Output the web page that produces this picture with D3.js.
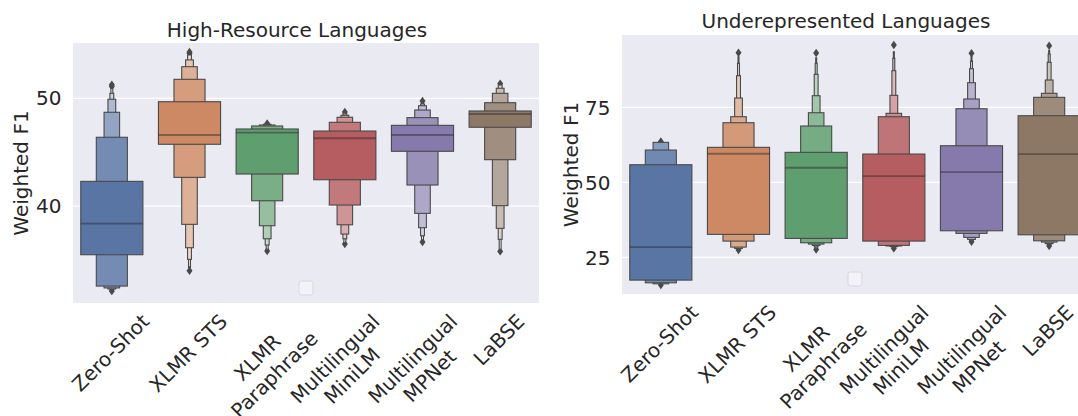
<!DOCTYPE html>
<html>
<head>
<meta charset="utf-8">
<script src="https://cdn.jsdelivr.net/npm/d3@7"></script>
<style>
  body { margin: 0; background: #fff; }
  svg { display: block; }
  text { font-family: "DejaVu Sans", sans-serif; fill: #262626; }
</style>
</head>
<body>
<div id="chart"></div>
<script>
// categories shared by both panels
var categories = ["Zero-Shot", "XLMR STS", "XLMR\nParaphrase", "Multilingual\nMiniLM", "Multilingual\nMPNet", "LaBSE"];
var colors = ["#5875A4", "#CC8963", "#5F9E6E", "#B55D60", "#857AAB", "#8D7866"];

// High-Resource Languages: median, letter-value box ends (inner -> outer), outliers
var hrTicks = [40, 50];
var hrMedian = [38.36, 46.59, 46.82, 46.29, 46.59, 48.54];
var hrUpper = [
  [42.29, 46.38, 48.70, 49.91, 50.46, 50.9],
  [49.68, 51.76, 52.93, 53.56, 54.02, 54.1],
  [47.15, 47.43, 47.52, 47.58, 47.62, 47.64],
  [46.96, 47.77, 48.24, 48.42, 48.55, 48.65],
  [47.49, 48.20, 48.91, 49.31, 49.47, 49.6],
  [48.82, 49.59, 50.46, 50.93, 51.23, 51.3]
];
var hrLower = [
  [35.48, 32.57, 32.40, 32.30, 32.25, 32.2],
  [45.73, 42.66, 38.30, 36.13, 35.05, 34.3],
  [42.97, 40.49, 38.17, 36.96, 36.38, 36.0],
  [42.44, 40.09, 38.26, 37.40, 36.96, 36.6],
  [45.08, 41.95, 39.32, 37.99, 37.24, 36.8],
  [47.31, 44.30, 40.03, 37.93, 36.91, 36.0]
];
var hrOutliers = [
  [51.1, 51.25, 32.1],
  [54.15, 54.3, 33.99],
  [47.66, 35.82],
  [48.73, 36.47],
  [49.75, 36.66],
  [51.36, 35.79]
];

// Underepresented Languages
var urTicks = [25, 50, 75];
var urMedian = [28.43, 59.53, 54.87, 52.1, 53.43, 59.43];
var urUpper = [
  [55.87, 60.77, 63.33],
  [61.67, 69.87, 71.87, 78.10, 85.53, 89.67, 91.87],
  [60.0, 68.77, 73.2, 78.87, 86.0, 89.67, 91.5],
  [59.43, 71.87, 73.0, 79.0, 87.2, 91.33, 93.53],
  [62.2, 74.53, 77.77, 83.2, 87.87, 90.43, 92.0],
  [72.2, 78.33, 79.67, 84.1, 90.0, 92.77, 94.0]
];
var urLower = [
  [17.43, 16.53, 16.2],
  [32.67, 30.43, 28.43, 28.0, 27.8, 27.6, 27.5],
  [31.33, 29.87, 29.43, 29.0, 28.5, 28.0, 27.8],
  [30.43, 29.0, 28.8, 28.6, 28.4, 28.2, 28.1],
  [33.87, 33.0, 31.67, 31.0, 30.7, 30.5, 30.4],
  [32.53, 30.53, 30.1, 29.6, 29.3, 29.0, 28.9]
];
var urOutliers = [
  [63.6, 15.77],
  [93.2, 27.43],
  [93.1, 27.6],
  [95.77, 28.0],
  [93.0, 30.2],
  [95.53, 28.77]
];

var W = 1078, H = 416, fs = 20;

var panels = [
  { title: "High-Resource Languages", left: 73, top: 43, width: 466, height: 260,
    domain: [31.0, 55.13], ticks: hrTicks, median: hrMedian, upper: hrUpper, lower: hrLower,
    outliers: hrOutliers, levels: 6, titleX: 297, titleY: 37, ylabelX: 28, legend: [299, 281] },
  { title: "Underepresented Languages", left: 622, top: 35, width: 466, height: 259,
    domain: [12.8, 99.1], ticks: urTicks, median: urMedian, upper: urUpper, lower: urLower,
    outliers: urOutliers, levels: 7, titleX: 846, titleY: 27.5, ylabelX: 578, legend: [848, 272] }
];

var svg = d3.select("#chart").append("svg")
  .attr("width", W)
  .attr("height", H);

function drawPanel(p) {
  var x = d3.scaleBand().domain(categories).range([0, p.width]).padding(0);
  var y = d3.scaleLinear().domain(p.domain).range([p.height, 0]);
  var bw = x.bandwidth();

  var g = svg.append("g").attr("transform", "translate(" + p.left + "," + p.top + ")");

  g.append("rect")
    .attr("width", p.width)
    .attr("height", p.height)
    .attr("fill", "#EAEAF2");

  // grid + tick labels
  g.selectAll(".grid").data(p.ticks).enter().append("line")
    .attr("x1", 0).attr("x2", p.width)
    .attr("y1", function(d) { return y(d); })
    .attr("y2", function(d) { return y(d); })
    .attr("stroke", "#fff").attr("stroke-width", 1.3);
  g.selectAll(".ytick").data(p.ticks).enter().append("text")
    .attr("x", -11.5)
    .attr("y", function(d) { return y(d); })
    .attr("dy", "0.36em")
    .attr("text-anchor", "end")
    .style("font-size", fs + "px")
    .text(function(d) { return d; });

  categories.forEach(function(c, i) {
    var cx = x(c) + bw / 2;
    var col = d3.color(colors[i]);

    // outliers go under the boxes
    g.selectAll(null).data(p.outliers[i]).enter().append("path")
      .attr("d", "M0,-4.2L3,0L0,4.2L-3,0Z")
      .attr("transform", function(d) { return "translate(" + cx + "," + y(d) + ")"; })
      .attr("fill", "#494949");

    var ups = p.upper[i], los = p.lower[i];
    for (var j = ups.length - 1; j >= 0; j--) {
      var w = 0.8 * bw * Math.pow(0.5, j);
      var t = 0.85 * j / (p.levels - 1);
      var fill = d3.interpolateRgb(col, "#ffffff")(t);
      g.append("rect")
        .attr("x", cx - w / 2)
        .attr("width", w)
        .attr("y", y(ups[j]))
        .attr("height", y(los[j]) - y(ups[j]))
        .attr("fill", fill)
        .attr("stroke", "#494949")
        .attr("stroke-width", 1.1);
    }

    g.append("line")
      .attr("x1", cx - 0.4 * bw).attr("x2", cx + 0.4 * bw)
      .attr("y1", y(p.median[i])).attr("y2", y(p.median[i]))
      .attr("stroke", "#262626").attr("stroke-opacity", 0.45)
      .attr("stroke-width", 1.8);

    // rotated, possibly two-line tick label
    var lines = c.split("\n");
    var lab = svg.append("g");
    var widths = [];
    lines.forEach(function(l, k) {
      var tx = lab.append("text")
        .attr("text-anchor", "middle")
        .attr("y", 0.76 * fs + k * 1.2 * fs)
        .style("font-size", fs + "px")
        .text(l);
      widths.push(tx.node().getComputedTextLength());
    });
    var bwid = d3.max(widths);
    var bh = (lines.length - 1) * 1.2 * fs + fs;
    var a = Math.PI / 4, co = Math.cos(a), si = Math.sin(a);
    var corners = [[-bwid / 2, 0], [bwid / 2, 0], [-bwid / 2, bh], [bwid / 2, bh]].map(function(q) {
      return [q[0] * co + q[1] * si, -q[0] * si + q[1] * co];
    });
    var minX = d3.min(corners, function(q) { return q[0]; });
    var maxX = d3.max(corners, function(q) { return q[0]; });
    var minY = d3.min(corners, function(q) { return q[1]; });
    var tx0 = p.left + cx - (minX + maxX) / 2;
    var ty0 = p.top + p.height + 9 - minY;
    lab.attr("transform", "translate(" + tx0 + "," + ty0 + ") rotate(-45)");
  });

  // empty legend frame
  svg.append("rect")
    .attr("x", p.legend[0]).attr("y", p.legend[1])
    .attr("width", 14).attr("height", 14)
    .attr("rx", 2.5)
    .attr("fill", "#F2F2F7")
    .attr("stroke", "#D6D6DC");

  svg.append("text")
    .attr("x", p.titleX).attr("y", p.titleY)
    .attr("text-anchor", "middle")
    .style("font-size", fs + "px")
    .text(p.title);

  svg.append("text")
    .attr("transform", "translate(" + p.ylabelX + "," + (p.top + p.height / 2) + ") rotate(-90)")
    .attr("text-anchor", "middle")
    .style("font-size", fs + "px")
    .text("Weighted F1");
}

panels.forEach(drawPanel);
</script>
</body>
</html>
